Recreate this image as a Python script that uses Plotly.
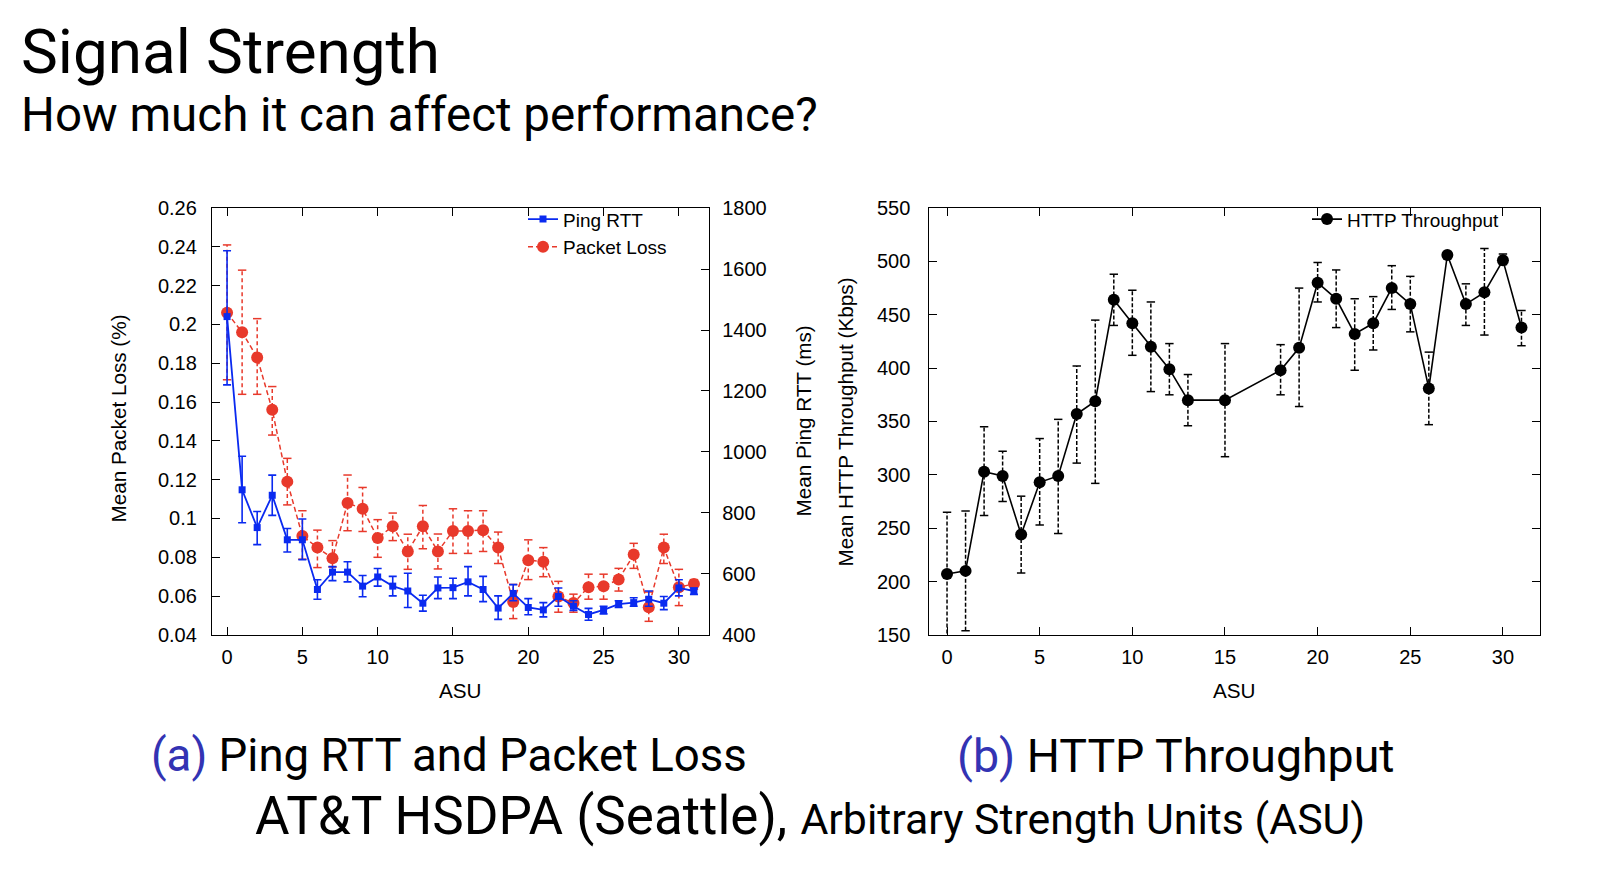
import plotly.graph_objects as go

# ---------------- data ----------------
asu = list(range(32))
packet_loss = [0.206, 0.196, 0.183, 0.156, 0.119, 0.091, 0.085, 0.0795, 0.108, 0.105,
               0.090, 0.096, 0.083, 0.096, 0.083, 0.0936, 0.0936, 0.094, 0.085, 0.057,
               0.0785, 0.0777, 0.0598, 0.0564, 0.0646, 0.0651, 0.0685, 0.0814, 0.0542, 0.085,
               0.0646, 0.0663]
loss_hi = [0.241, 0.228, 0.203, 0.168, 0.131, 0.104, 0.094, 0.0886, 0.1224, 0.116,
           0.0994, 0.1028, 0.0919, 0.1067, 0.092, 0.105, 0.104, 0.104, 0.093, 0.066,
           0.089, 0.085, 0.0676, 0.061, 0.0713, 0.0713, 0.0743, 0.0872, 0.0621, 0.0919,
           0.0738, 0.0685]
loss_lo = [0.1715, 0.164, 0.164, 0.143, 0.107, 0.079, 0.0747, 0.075, 0.0937, 0.0933,
           0.080, 0.0886, 0.0738, 0.0844, 0.074, 0.082, 0.082, 0.083, 0.0768, 0.0484,
           0.0685, 0.070, 0.0517, 0.0517, 0.0584, 0.0584, 0.0626, 0.0743, 0.047, 0.0768,
           0.0551, 0.0635]
ping_rtt = [1444, 876, 752, 858, 712, 712, 549, 606, 606, 560, 590, 560, 544, 504, 554, 555,
            574, 549, 488, 536, 490, 482, 526, 494, 467, 482, 501, 506, 517, 504, 554, 544]
rtt_hi = [1660, 986, 805, 924, 749, 780, 581, 624, 640, 595, 618, 592, 602, 530, 590, 586,
          624, 592, 528, 565, 519, 506, 554, 512, 487, 494, 512, 522, 544, 526, 581, 554]
rtt_lo = [1220, 768, 696, 792, 672, 647, 517, 578, 574, 525, 560, 528, 490, 478, 519, 519,
          528, 509, 451, 512, 466, 459, 494, 480, 448, 469, 490, 494, 494, 483, 528, 533]

asu_http = [0, 1, 2, 3, 4, 5, 6, 7, 8, 9, 10, 11, 12, 13, 15, 18, 19, 20, 21, 22, 23, 24,
            25, 26, 27, 28, 29, 30, 31]
throughput = [207, 210, 303, 299, 244, 293, 299, 357, 369, 464, 442, 420, 399, 370, 370, 398,
              419, 480, 465, 432, 442, 475, 460, 381, 506, 460, 471, 501, 438]
tput_hi = [265, 266, 345, 322, 280, 334, 352, 402, 445, 488, 473, 462, 423, 394, 423, 422,
           475, 499, 492, 465, 467, 496, 486, 415, 508, 479, 512, 507, 454]
tput_lo = [140, 154, 262, 275, 208, 253, 245, 311, 292, 440, 412, 378, 375, 346, 317, 375,
           364, 462, 438, 398, 417, 455, 434, 347, 504, 440, 431, 497, 421]

x_ticks = [0, 5, 10, 15, 20, 25, 30]
loss_ticks = [0.04, 0.06, 0.08, 0.10, 0.12, 0.14, 0.16, 0.18, 0.20, 0.22, 0.24, 0.26]
loss_ticktext = ["0.04", "0.06", "0.08", "0.1", "0.12", "0.14", "0.16", "0.18", "0.2",
                 "0.22", "0.24", "0.26"]
rtt_ticks = [400, 600, 800, 1000, 1200, 1400, 1600, 1800]
tput_ticks = [150, 200, 250, 300, 350, 400, 450, 500, 550]

BLUE = "#0a2af0"
RED = "#e8392b"
BLACK = "#000000"
CAPTION_BLUE = "#3333b3"
PLOT_FONT = "Liberation Sans"
SLIDE_FONT = "Roboto"


def bar_segments(xs, lo, hi):
    bx, by = [], []
    for x, l, h in zip(xs, lo, hi):
        bx += [x, x, None]
        by += [l, h, None]
    return bx, by


fig = go.Figure()

# ---- Ping RTT (blue, right axis of left plot) ----
fig.add_trace(go.Scatter(
    x=asu, y=ping_rtt, name="Ping RTT", mode="lines+markers",
    xaxis="x", yaxis="y2", legend="legend",
    line=dict(color=BLUE, width=1.8),
    marker=dict(symbol="square", size=7, color=BLUE),
    error_y=dict(type="data", symmetric=False,
                 array=[h - v for h, v in zip(rtt_hi, ping_rtt)],
                 arrayminus=[v - l for v, l in zip(ping_rtt, rtt_lo)],
                 color=BLUE, thickness=1.6, width=4),
))

# ---- Packet loss (red dashed, left axis) ----
lx, ly = bar_segments(asu, loss_lo, loss_hi)
fig.add_trace(go.Scatter(
    x=lx, y=ly, mode="lines", xaxis="x", yaxis="y", showlegend=False,
    line=dict(color=RED, width=1.5, dash="4px,3px"), hoverinfo="skip",
))
fig.add_trace(go.Scatter(
    x=asu + asu, y=loss_lo + loss_hi, mode="markers", xaxis="x", yaxis="y",
    showlegend=False, hoverinfo="skip",
    marker=dict(symbol="line-ew", size=6, line=dict(color=RED, width=1.5)),
))
fig.add_trace(go.Scatter(
    x=asu, y=packet_loss, name="Packet Loss", mode="lines+markers",
    xaxis="x", yaxis="y", legend="legend",
    line=dict(color=RED, width=1.5, dash="5px,3px"),
    marker=dict(symbol="circle", size=12, color=RED),
))

# ---- HTTP throughput (black, right plot) ----
tx, ty = bar_segments(asu_http, tput_lo, tput_hi)
fig.add_trace(go.Scatter(
    x=tx, y=ty, mode="lines", xaxis="x2", yaxis="y3", showlegend=False,
    line=dict(color=BLACK, width=1.5, dash="4px,2px"), hoverinfo="skip",
))
fig.add_trace(go.Scatter(
    x=asu_http + asu_http, y=tput_lo + tput_hi, mode="markers", xaxis="x2", yaxis="y3",
    showlegend=False, hoverinfo="skip",
    marker=dict(symbol="line-ew", size=6, line=dict(color=BLACK, width=1.5)),
))
fig.add_trace(go.Scatter(
    x=asu_http, y=throughput, name="HTTP Throughput", mode="lines+markers",
    xaxis="x2", yaxis="y3", legend="legend2",
    line=dict(color=BLACK, width=1.6),
    marker=dict(symbol="circle", size=12, color=BLACK),
))

# page body has an 8px margin; the figure is placed at (8, 8) in the window
OFF = 8
W, H = 1600 - 2 * OFF, 880 - 2 * OFF
L_X0, L_X1 = 212, 709
R_X0, R_X1 = 928.5, 1540
Y_TOP, Y_BOT = 202, 640


def px(x):
    return (x - OFF) / W


def py(y):
    return 1 - (y - OFF) / H


axis_common = dict(
    showline=True, linecolor="black", linewidth=1.3,
    ticks="inside", ticklen=8, tickwidth=1.2, tickcolor="black",
    showgrid=False, zeroline=False,
    tickfont=dict(family=PLOT_FONT, size=20, color="black"),
)

fig.update_layout(
    width=W, height=H,
    margin=dict(l=0, r=0, t=0, b=0),
    paper_bgcolor="white", plot_bgcolor="white",
    xaxis=dict(domain=[px(L_X0), px(L_X1)], anchor="y", range=[-1, 32],
               tickvals=x_ticks, mirror="ticks", ticklabelstandoff=4, **axis_common),
    yaxis=dict(domain=[py(Y_BOT), py(Y_TOP)], anchor="x", range=[0.04, 0.26],
               tickvals=loss_ticks, ticktext=loss_ticktext, ticklabelstandoff=10,
               **axis_common),
    yaxis2=dict(overlaying="y", side="right", anchor="x", range=[400, 1800],
                tickvals=rtt_ticks, ticklabelstandoff=8, **axis_common),
    xaxis2=dict(domain=[px(R_X0), px(R_X1)], anchor="y3", range=[-1, 32],
                tickvals=x_ticks, mirror="ticks", ticklabelstandoff=4, **axis_common),
    yaxis3=dict(domain=[py(Y_BOT), py(Y_TOP)], anchor="x2", range=[150, 550],
                tickvals=tput_ticks, mirror="ticks", ticklabelstandoff=13, **axis_common),
    legend=dict(x=px(672), y=py(194), xanchor="right", yanchor="top",
                bgcolor="rgba(0,0,0,0)", tracegroupgap=0,
                font=dict(family=PLOT_FONT, size=19, color="black")),
    legend2=dict(x=px(1505), y=py(194), xanchor="right", yanchor="top",
                 bgcolor="rgba(0,0,0,0)",
                 font=dict(family=PLOT_FONT, size=19, color="black")),
    showlegend=True,
)

plot_title_font = dict(family=PLOT_FONT, size=20.7, color="black")
annotations = [
    dict(text="ASU", x=px((L_X0 + L_X1) / 2), y=py(697), font=plot_title_font),
    dict(text="ASU", x=px((R_X0 + R_X1) / 2), y=py(697), font=plot_title_font),
    dict(text="Mean Packet Loss (%)", x=px(119), y=py(418), textangle=-90, font=plot_title_font),
    dict(text="Mean Ping RTT (ms)", x=px(803), y=py(421), textangle=-90, font=plot_title_font),
    dict(text="Mean HTTP Throughput (Kbps)", x=px(845), y=py(422), textangle=-90,
         font=plot_title_font),
]
for a in annotations:
    a.update(xref="paper", yref="paper", showarrow=False, xanchor="center", yanchor="middle")

slide_texts = [
    dict(text="Signal Strength", x=px(19), y=py(41), font=dict(family=SLIDE_FONT, size=62)),
    dict(text="How much it can affect performance?", x=px(19), y=py(107),
         font=dict(family=SLIDE_FONT, size=47.5)),
    dict(text=f"<span style='color:{CAPTION_BLUE}'>(a)</span> Ping RTT and Packet Loss",
         x=px(149), y=py(764), font=dict(family=SLIDE_FONT, size=45.6)),
    dict(text=f"<span style='color:{CAPTION_BLUE}'>(b)</span> HTTP Throughput",
         x=px(955), y=py(764), font=dict(family=SLIDE_FONT, size=46.5)),
    dict(text="AT&amp;T HSDPA (Seattle), <span style='font-size:42.8px'>Arbitrary Strength Units (ASU)</span>",
         x=px(253), y=py(826), font=dict(family=SLIDE_FONT, size=53)),
]
for a in slide_texts:
    a.update(xref="paper", yref="paper", showarrow=False, xanchor="left", yanchor="middle")
    a["font"]["color"] = "black"

fig.update_layout(annotations=annotations + slide_texts)

fig.write_html("out.html")
